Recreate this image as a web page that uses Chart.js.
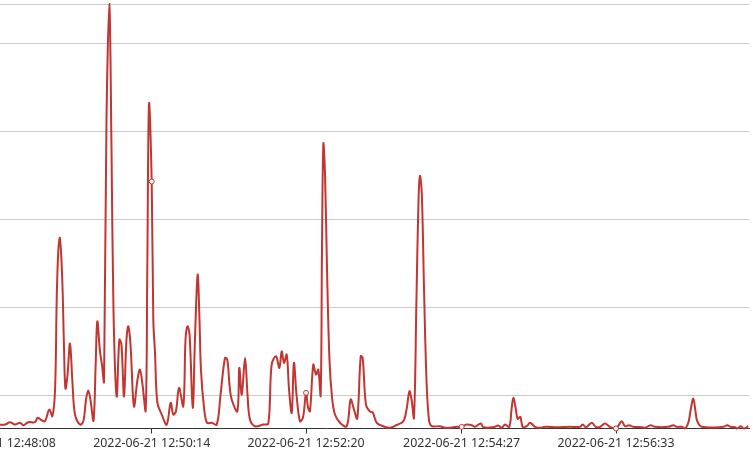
<!DOCTYPE html>
<html>
<head>
<meta charset="utf-8">
<script src="https://cdn.jsdelivr.net/npm/chart.js@4.4.0/dist/chart.umd.min.js"></script>
<style>
    html, body { margin: 0; padding: 0; background: #fff; }
    #wrap { position: relative; width: 753px; height: 456px; overflow: hidden; }
    #trafficChart { position: absolute; left: -100px; top: 0; }
</style>
</head>
<body>
<div id="wrap">
    <canvas id="trafficChart" width="853" height="456"></canvas>
</div>
<script>
// seconds after 2022-06-21 12:48:08
let times = [0, 6.3, 10.3, 14.4, 18.5, 21.2, 25.3, 30.7, 32.9, 36.2,
    38.9, 42.4, 44.9, 47.1, 48.5, 49.8, 51.1, 53.0, 54.4, 55.6,
    57.3, 59.3, 61.4, 63.4, 67.5, 70.2, 72.4, 74.2, 76.0, 78.5,
    80.3, 81.6, 83.8, 85.4, 87.1, 89.1, 91.4, 93.2, 94.8, 97.4,
    99.6, 101.3, 103.4, 105.4, 106.9, 108.7, 111.5, 114.4, 116.4, 118.5,
    121.1, 122.4, 123.8, 126, 127.3, 128.7, 130.6, 134.2, 138.2, 141.5,
    143.6, 145.8, 148.3, 151.8, 153.6, 155.2, 156.9, 159.5, 161.3, 163.5,
    165.0, 166.2, 168.7, 171.1, 175.0, 179.1, 182.2, 185.8, 187.7, 189.5,
    191.3, 195.9, 197.5, 199.5, 202.2, 204.2, 206.2, 210.3, 217.1, 221.2,
    223.9, 227.5, 230.2, 232.1, 234.0, 236.2, 238.1, 240.3, 242.1, 244.2,
    247.0, 249.5, 252, 253.6, 255.2, 257.9, 260.1, 262.0, 263.9, 265.0,
    266.1, 267.5, 269.1, 271.1, 273.2, 275.6, 279.7, 285.2, 288.4, 291.1,
    293.8, 296.6, 298.2, 300.9, 304.2, 306.4, 309.7, 315.0, 320.5, 326.0,
    331.4, 334.0, 336.4, 338.1, 340.1, 342.1, 343.8, 345.0, 346.5, 348.3,
    350.3, 352.3, 354.6, 361.3, 365.4, 369.5, 375.0, 379, 383.1, 387.2,
    389.9, 394.6, 396.7, 404.8, 408.9, 411.7, 414.4, 417.9, 419.7, 421.2,
    423.0, 424.7, 426.9, 428.8, 432.1, 434.8, 438.9, 443.0, 447.0, 456.6,
    467.4, 475.6, 477.8, 480.5, 485.2, 488.4, 491.9, 496.0, 500.1, 505,
    509.6, 512.3, 515.8, 519.1, 526.0, 528.7, 533.3, 536.8, 547.7, 551.8,
    554.5, 558.6, 561.3, 564.0, 566.0, 568.1, 569.9, 571.3, 574.9, 592.6,
    595.8, 598.6, 602.1, 604.0, 606.8, 609.5, 613.0];

let values = [67.0, 67.0, 69.7, 67.0, 69.0, 66.3, 69.7, 69.7, 74.7, 71.9,
    70.8, 84.1, 76.5, 106.8, 212.5, 265.9, 279.2, 231.8, 155.7, 108.0,
    123.9, 159.1, 112.5, 78.4, 67.0, 70.8, 95.5, 105.7, 95.5, 71.6,
    137.5, 184.4, 150.0, 135.2, 115.9, 413.6, 545.5, 379.5, 197.7, 98.9,
    163.6, 158.0, 98.9, 163.6, 178.8, 158.0, 87.8, 118.2, 129.5, 112.5,
    83.0, 243.2, 431.8, 343.5, 186.4, 148.9, 92.0, 78.4, 67.0, 91.7,
    78.4, 82.2, 108.8, 87.8, 163.6, 178.8, 169.3, 86.0, 163.6, 237.5,
    186.4, 129.5, 86.4, 69.0, 69.0, 67.0, 101.1, 142.8, 140.9, 112.5,
    95.5, 82.2, 131.5, 101.1, 142.8, 101.1, 72.7, 65.1, 67.0, 68.2,
    135.2, 144.7, 131.5, 150.3, 137.2, 146.6, 106.8, 80.3, 137.2, 101.1,
    70.8, 75.0, 103.1, 86.4, 82.2, 135.2, 123.9, 129.5, 100.0, 265.9,
    386.4, 351.1, 243.2, 140.9, 97.7, 78.4, 69.0, 65.1, 95.5, 84.1,
    73.9, 144.9, 142.8, 89.8, 81.8, 81.0, 69.0, 65.1, 63.3, 66.5,
    70.8, 84.1, 104.9, 95.5, 74.7, 209.1, 322.7, 350.0, 328.4, 220.5,
    118.2, 72.7, 65.3, 65.1, 63.3, 63.3, 64.4, 64.4, 67.0, 66.3,
    64.4, 68.2, 64.0, 64.0, 65.9, 63.3, 67.0, 64.4, 84.1, 97.4,
    86.4, 73.5, 75.8, 64.4, 65.1, 69.0, 64.4, 63.3, 64.4, 64.0,
    64.4, 64.4, 67.0, 64.0, 69.0, 64.4, 64.2, 68.2, 64.4, 62.5,
    70.8, 65.1, 66.3, 64.4, 64.0, 63.3, 66.3, 64.4, 64.4, 66.3,
    64.4, 64.4, 62.5, 69.0, 84.1, 96.6, 81.8, 70.8, 64.4, 64.4,
    66.3, 64.4, 64.0, 62.5, 65.1, 62.5, 65.1];

let tickTimes = [0, 126, 252, 379, 505];
let tickLabels = ['2022-06-21 12:48:08', '2022-06-21 12:50:14', '2022-06-21 12:52:20',
    '2022-06-21 12:54:27', '2022-06-21 12:56:33'];
let gridValues = [100, 200, 300, 400, 500];

let points = times.map((t, i) => ({ x: t, y: values[i] }));
let minVal = Math.min(...values);
let maxVal = Math.max(...values);

let ctx = document.getElementById('trafficChart').getContext('2d');
let trafficChart = new Chart(ctx, {
    type: 'line',
    data: {
        datasets: [{
            data: points,
            borderColor: '#c23531',
            borderWidth: 2,
            tension: 0.35,
            fill: false,
            clip: false,
            pointRadius: c => tickTimes.includes(times[c.dataIndex]) ? 2.5 : 0,
            pointHoverRadius: 0,
            pointBackgroundColor: '#fff',
            pointBorderColor: '#c23531',
            pointBorderWidth: 1
        }]
    },
    options: {
        responsive: false,
        animation: false,
        // the line controller keeps at least 3.5px round the plot for the first point
        layout: { padding: { left: 0, right: 3.7, top: 4, bottom: 1.6 } },
        plugins: { legend: { display: false }, tooltip: { enabled: false } },
        scales: {
            x: {
                type: 'linear',
                min: -76.6,
                max: 613.8,
                afterBuildTicks: axis => { axis.ticks = tickTimes.map(v => ({ value: v })); },
                ticks: {
                    autoSkip: false,
                    maxRotation: 0,
                    padding: 3,
                    color: '#333',
                    font: { family: 'Noto Sans', size: 12.4 },
                    callback: v => tickLabels[tickTimes.indexOf(v)]
                },
                grid: { drawOnChartArea: false, drawTicks: true, tickLength: 5, color: '#333' },
                border: { display: true, color: '#333', width: 1 }
            },
            y: {
                min: minVal,
                max: maxVal,
                afterBuildTicks: axis => { axis.ticks = gridValues.concat([maxVal]).map(v => ({ value: v })); },
                afterFit: axis => { axis.width = 0; },
                ticks: { display: false },
                grid: { color: '#ccc', drawTicks: false },
                border: { display: false }
            }
        }
    }
});
</script>
</body>
</html>
